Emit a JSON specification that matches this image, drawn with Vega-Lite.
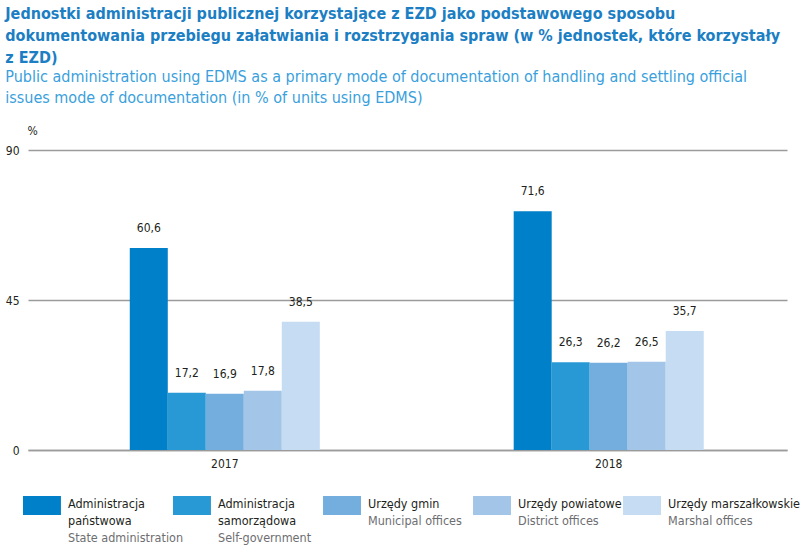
{
  "$schema": "https://vega.github.io/schema/vega-lite/v6.json",
  "background": "white",
  "padding": {"left": 5, "top": 6, "right": 5, "bottom": 0},
  "config": {
    "view": {"stroke": null},
    "font": "DejaVu Sans Condensed, Roboto, sans-serif",
    "locale": {"number": {"decimal": ",", "thousands": " ", "grouping": [3], "currency": ["", ""]}}
  },
  "title": {
    "text": ["Jednostki administracji publicznej korzystające z EZD jako podstawowego sposobu", "dokumentowania przebiegu załatwiania i rozstrzygania spraw (w % jednostek, które korzystały", "z EZD)"],
    "subtitle": ["Public administration using EDMS as a primary mode of documentation of handling and settling official", "issues mode of documentation (in % of units using EDMS)"],
    "anchor": "start",
    "frame": "bounds",
    "font": "DejaVu Sans Condensed, Roboto, sans-serif",
    "fontSize": 16,
    "fontWeight": "bold",
    "color": "#1c7ec3",
    "lineHeight": 22,
    "baseline": "top",
    "subtitleFont": "DejaVu Sans Condensed, Roboto, sans-serif",
    "subtitleFontSize": 16,
    "subtitleColor": "#3a9fdc",
    "subtitleLineHeight": 21,
    "subtitlePadding": 3,
    "offset": 18
  },
  "datasets": {
    "bars": [
      {"year": "2017", "cat": "Administracja państwowa", "value": 60.6},
      {"year": "2017", "cat": "Administracja samorządowa", "value": 17.2},
      {"year": "2017", "cat": "Urzędy gmin", "value": 16.9},
      {"year": "2017", "cat": "Urzędy powiatowe", "value": 17.8},
      {"year": "2017", "cat": "Urzędy marszałkowskie", "value": 38.5},
      {"year": "2018", "cat": "Administracja państwowa", "value": 71.6},
      {"year": "2018", "cat": "Administracja samorządowa", "value": 26.3},
      {"year": "2018", "cat": "Urzędy gmin", "value": 26.2},
      {"year": "2018", "cat": "Urzędy powiatowe", "value": 26.5},
      {"year": "2018", "cat": "Urzędy marszałkowskie", "value": 35.7}
    ],
    "legend": [
      {"cat": "Administracja państwowa", "line": 1, "text": "Administracja", "kind": "pl"},
      {"cat": "Administracja państwowa", "line": 2, "text": "państwowa", "kind": "pl"},
      {"cat": "Administracja państwowa", "line": 3, "text": "State administration", "kind": "en"},
      {"cat": "Administracja samorządowa", "line": 1, "text": "Administracja", "kind": "pl"},
      {"cat": "Administracja samorządowa", "line": 2, "text": "samorządowa", "kind": "pl"},
      {"cat": "Administracja samorządowa", "line": 3, "text": "Self-government", "kind": "en"},
      {"cat": "Urzędy gmin", "line": 1, "text": "Urzędy gmin", "kind": "pl"},
      {"cat": "Urzędy gmin", "line": 2, "text": "Municipal offices", "kind": "en"},
      {"cat": "Urzędy powiatowe", "line": 1, "text": "Urzędy powiatowe", "kind": "pl"},
      {"cat": "Urzędy powiatowe", "line": 2, "text": "District offices", "kind": "en"},
      {"cat": "Urzędy marszałkowskie", "line": 1, "text": "Urzędy marszałkowskie", "kind": "pl"},
      {"cat": "Urzędy marszałkowskie", "line": 2, "text": "Marshal offices", "kind": "en"}
    ]
  },
  "spacing": 26,
  "vconcat": [
    {
      "width": 759,
      "height": 300,
      "data": {"name": "bars"},
      "encoding": {
        "x": {
          "field": "year", "type": "nominal",
          "scale": {"paddingInner": 0.505, "paddingOuter": 0.241, "align": 0.55},
          "axis": {"title": null, "labelAngle": 0, "ticks": false, "domainColor": "#9b9b9b", "domainWidth": 1.5, "labelPadding": 8, "labelFontSize": 12, "labelColor": "#231f20"}
        },
        "xOffset": {
          "field": "cat", "type": "nominal",
          "sort": ["Administracja państwowa", "Administracja samorządowa", "Urzędy gmin", "Urzędy powiatowe", "Urzędy marszałkowskie"],
          "scale": {"paddingInner": 0, "paddingOuter": 0}
        },
        "y": {
          "field": "value", "type": "quantitative",
          "scale": {"domain": [0, 90]},
          "axis": {"values": [0, 45, 90], "grid": true, "gridColor": "#9b9b9b", "gridWidth": 1.5, "domain": false, "ticks": false, "labelPadding": 9, "labelFontSize": 12, "labelColor": "#231f20",
                   "title": "%", "titleAngle": 0, "titleX": -1, "titleY": -20, "titleAlign": "left", "titleBaseline": "middle", "titleFontWeight": "normal", "titleFontSize": 12, "titleColor": "#231f20"}
        }
      },
      "layer": [
        {
          "mark": {"type": "bar"},
          "encoding": {
            "color": {
              "field": "cat", "type": "nominal",
              "scale": {
                "domain": ["Administracja państwowa", "Administracja samorządowa", "Urzędy gmin", "Urzędy powiatowe", "Urzędy marszałkowskie"],
                "range": ["#0080c8", "#2899d4", "#74aede", "#a3c6e8", "#c6dcf2"]
              },
              "legend": null
            }
          }
        },
        {
          "mark": {"type": "text", "baseline": "middle", "dy": -20, "fontSize": 12, "color": "#231f20"},
          "encoding": {"text": {"field": "value", "type": "quantitative", "format": ".1f"}}
        }
      ]
    },
    {
      "width": 638,
      "height": 51,
      "data": {"name": "legend"},
      "encoding": {
        "x": {
          "field": "cat", "type": "nominal",
          "sort": ["Administracja państwowa", "Administracja samorządowa", "Urzędy gmin", "Urzędy powiatowe", "Urzędy marszałkowskie"],
          "scale": {"paddingInner": 0.747, "paddingOuter": 0, "align": 0},
          "axis": null
        },
        "y": {"field": "line", "type": "ordinal", "scale": {"domain": [1, 2, 3], "paddingInner": 0, "paddingOuter": 0}, "axis": null}
      },
      "layer": [
        {
          "transform": [{"filter": "datum.line == 1"}],
          "mark": {"type": "bar", "height": 19, "yOffset": 2, "xOffset": -5},
          "encoding": {
            "color": {
              "field": "cat", "type": "nominal",
              "scale": {
                "domain": ["Administracja państwowa", "Administracja samorządowa", "Urzędy gmin", "Urzędy powiatowe", "Urzędy marszałkowskie"],
                "range": ["#0080c8", "#2899d4", "#74aede", "#a3c6e8", "#c6dcf2"]
              },
              "legend": null
            }
          }
        },
        {
          "mark": {"type": "text", "align": "left", "baseline": "middle", "dx": 40, "fontSize": 12.5},
          "encoding": {
            "x": {"field": "cat", "type": "nominal", "bandPosition": 0, "sort": ["Administracja państwowa", "Administracja samorządowa", "Urzędy gmin", "Urzędy powiatowe", "Urzędy marszałkowskie"]},
            "text": {"field": "text"},
            "color": {"condition": {"test": "datum.kind == 'en'", "value": "#6d6e71"}, "value": "#231f20"}
          }
        }
      ]
    }
  ]
}
